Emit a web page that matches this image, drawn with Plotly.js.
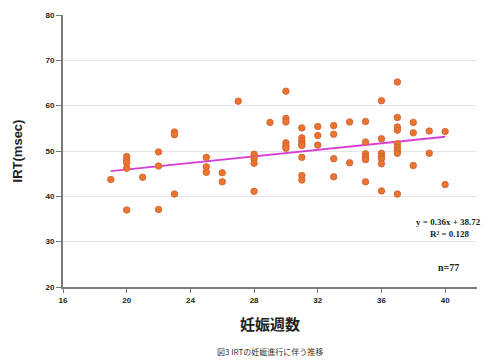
<!DOCTYPE html>
<html>
<head>
<meta charset="utf-8">
<script src="https://cdn.plot.ly/plotly-3.0.1.min.js"></script>
<style>html,body{margin:0;padding:0;background:#fff;}#chart{width:488px;height:363px;}</style>
</head>
<body>
<div id="chart"></div>
<script>
// gestational week of each measurement
const weeks = [
  19,
  20,20,20,20,20,
  21,
  22,22,22,
  23,23,23,
  25,25,25,
  26,26,
  27,
  28,28,28,28,
  29,
  30,30,30,30,30,30,
  31,31,31,31,31,31,31,31,
  32,32,32,
  33,33,33,33,
  34,34,
  35,35,35,35,35,35,
  36,36,36,36,36,36,36,
  37,37,37,37,37,37,37,37,37,
  38,38,38,
  39,39,
  40,40
];
// IRT (msec)
const irt = [
  43.7,
  48.8,48.0,47.4,46.2,37.0,
  44.2,
  49.8,46.7,37.1,
  54.2,53.6,40.5,
  48.6,46.5,45.3,
  45.2,43.2,
  61.0,
  49.3,48.3,47.3,41.1,
  56.3,
  63.2,57.2,56.4,51.8,51.1,50.6,
  55.1,52.9,52.2,51.6,51.2,48.6,44.6,43.6,
  55.4,53.4,51.3,
  55.6,53.7,48.3,44.3,
  56.4,47.4,
  56.5,52.0,49.4,48.7,48.1,43.2,
  61.1,52.7,49.5,48.8,48.3,47.2,41.2,
  65.2,57.4,55.3,54.6,51.6,50.8,50.2,49.5,40.5,
  56.3,54.0,46.8,
  54.4,49.5,
  54.3,42.6
];
// linear fit shown in chart
const fitSlope = 0.36;
const fitIntercept = 38.72;
const fitR2 = 0.128;
const xTicks = [16,20,24,28,32,36,40];
const yTicks = [20,30,40,50,60,70,80];
const labels = {
  yTitle: "IRT(msec)",
  xTitle: "妊娠週数",
  caption: "図3 IRTの妊娠進行に伴う推移",
  eq: "y = 0.36x + 38.72",
  r2: "R² = 0.128",
  n: "n=77"
};

const xMin = Math.min(...weeks), xMax = Math.max(...weeks);
const fitX = [xMin, xMax];
const fitY = fitX.map(x => fitSlope * x + fitIntercept);

const data = [
  {
    x: fitX, y: fitY, type: 'scatter', mode: 'lines',
    line: {color: '#d63fd6', width: 2}, hoverinfo: 'skip'
  },
  {
    x: weeks, y: irt, type: 'scatter', mode: 'markers',
    marker: {color: '#ec7330', size: 6.5, line: {color: '#d0602a', width: 0.8}}
  }
];

const tickFont = {family: 'Liberation Sans, Arial, sans-serif', size: 8, color: '#222'};
const layout = {
  width: 488, height: 363,
  margin: {l: 63, r: 11, t: 15, b: 76},
  paper_bgcolor: '#fff', plot_bgcolor: '#fff',
  showlegend: false,
  xaxis: {
    range: [16, 42], tickvals: xTicks, ticktext: xTicks.map(String),
    showgrid: false, zeroline: false,
    showline: true, linecolor: '#7a7a7a', linewidth: 2,
    ticks: 'outside', ticklen: 4, tickcolor: '#7a7a7a', tickwidth: 1,
    tickfont: Object.assign({}, tickFont, {weight: 'bold'}),
    title: {text: '<b>' + labels.xTitle + '</b>', font: {family: 'Noto Sans CJK JP', size: 15, color: '#222'}, standoff: 16}
  },
  yaxis: {
    range: [20, 80], tickvals: yTicks, ticktext: yTicks.map(String),
    showgrid: true, gridcolor: '#e4e4e4', gridwidth: 1, zeroline: false,
    showline: true, linecolor: '#7a7a7a', linewidth: 2,
    ticks: 'outside', ticklen: 5, tickcolor: '#7a7a7a', tickwidth: 1,
    tickfont: Object.assign({}, tickFont, {weight: 'bold'}),
    title: {text: '<b>' + labels.yTitle + '</b>', font: {family: 'Liberation Sans, Arial, sans-serif', size: 13, color: '#222'}, standoff: 20}
  },
  annotations: [
    {xref: 'paper', yref: 'paper', x: 1.015, y: 0.239, xanchor: 'right', yanchor: 'middle',
     text: '<b>' + labels.eq + '</b>', showarrow: false,
     font: {family: 'Liberation Serif, Times New Roman, serif', size: 9, color: '#222'}},
    {xref: 'paper', yref: 'paper', x: 0.935, y: 0.195, xanchor: 'center', yanchor: 'middle',
     text: '<b>' + labels.r2 + '</b>', showarrow: false,
     font: {family: 'Liberation Serif, Times New Roman, serif', size: 9, color: '#222'}},
    {xref: 'paper', yref: 'paper', x: 0.93, y: 0.07, xanchor: 'center', yanchor: 'middle',
     text: '<b>' + labels.n + '</b>', showarrow: false,
     font: {family: 'Liberation Serif, Times New Roman, serif', size: 10, color: '#222'}},
    {xref: 'paper', yref: 'paper', x: 0.5, y: -0.238, xanchor: 'center', yanchor: 'middle',
     text: labels.caption, showarrow: false,
     font: {family: 'Noto Sans CJK JP', size: 8, color: '#333'}}
  ]
};

Plotly.newPlot('chart', data, layout, {displayModeBar: false, staticPlot: true});
</script>
</body>
</html>
